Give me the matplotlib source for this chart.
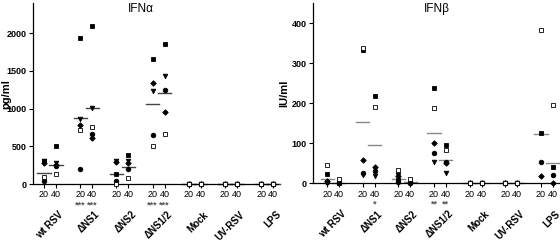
import numpy as np
import matplotlib
matplotlib.use('Agg')
import matplotlib.pyplot as plt

plt.rcParams['font.family'] = ['Liberation Sans', 'DejaVu Sans']

groups = ['wt RSV', '\u0394NS1', '\u0394NS2', '\u0394NS1/2', 'Mock', 'UV-RSV', 'LPS']
mois = ['20', '40']
nan = np.nan

# IFN-alpha (pg/ml), one list per donor, 14 conditions (group x MOI)
a_sq   = [310, 500, 1940, 2100, 130, 380, 1665, 1855, 0, 0, 0, 0, 0, 0]
a_tri  = [300, 285, 860, 1003, 300, 310, 1237, 1431, 0, 0, 0, 0, 0, 0]
a_dia  = [280, 250, 777, 614, 290, 275, 1334, 958, 0, 0, 0, 0, 0, 0]
a_cir  = [40, 245, 199, 667, 35, 195, 649, 1250, 0, 0, 0, 0, 0, 0]
a_open = [90, 128, 711, 755, 0, 84, 503, 658, 0, 0, 0, 0, 0, 0]
a_mean = [146, 256, 879, 1004, 137, 221, 1060, 1210, 0, 0, 0, 0, 0, 0]
a_stars = ['', '', '***', '***', '', '', '***', '***', '', '', '', '', '', '']

# IFN-beta (IU/ml)
b_sq   = [24, 2, 334, 218, 8, 4, 239, 97, 0, 0, 0, 0, 125, 40]
b_tri  = [0, 0, 21, 19, 22, 0, 54, 26, 0, 0, 0, 0, nan, nan]
b_dia  = [5, 0, 59, 40, 18, 0, 100, 51, 0, 0, 0, 0, 18, 2]
b_cir  = [3, 2, 25, 30, 3, 2, 75, 54, 0, 0, 0, 0, 54, 21]
b_open = [45, 11, 338, 191, 33, 10, 187, 83, 0, 0, 0, 0, 382, 196]
b_mean = [12, 0, 152, 95, 12, 3, 126, 59, 0, 0, 0, 0, 124, 52]
b_stars = ['', '', '', '*', '', '', '**', '**', '', '', '', '', '', '']

pos = np.array([3 * g + m for g in range(len(groups)) for m in range(2)])


def panel(ax, donors, means, stars, title, title_x, ylabel, ylab_x,
          yticks, ylim, xlim, mean_col):
    styles = [('s', 'k'), ('v', 'k'), ('D', 'k'), ('o', 'k'), ('s', 'white')]
    for vals, (mk, fc) in zip(donors, styles):
        ms = 3.3 if mk != 'D' else 2.8
        ax.plot(pos, vals, ls='none', marker=mk, ms=ms, mfc=fc, mec='k',
                mew=0.6, clip_on=False, zorder=3)
    for p, m in zip(pos, means):
        ax.plot([p - 0.55, p + 0.55], [m, m], color=mean_col, lw=1.0, zorder=2,
                clip_on=False)
    ax.set_xlim(*xlim)
    ax.set_ylim(*ylim)
    ax.set_yticks(yticks)
    ax.set_xticks(pos)
    ax.set_xticklabels(mois * len(groups), fontsize=6.5)
    for lab in ax.get_yticklabels():
        lab.set_fontweight('bold')
        lab.set_fontsize(6.5)
    ax.tick_params(axis='both', length=3, width=0.8, pad=1.5)
    ax.spines['top'].set_visible(False)
    ax.spines['right'].set_visible(False)
    ax.spines['left'].set_linewidth(0.9)
    ax.spines['bottom'].set_linewidth(0.9)
    ax.text(title_x, 0.97, title, transform=ax.transAxes, ha='center',
            va='center', fontsize=8.5)
    ax.set_ylabel(ylabel, fontsize=8, fontweight='bold')
    ax.yaxis.set_label_coords(ylab_x, 0.5)
    tr = ax.get_xaxis_transform()
    for p, s in zip(pos, stars):
        if s:
            ax.text(p, -0.115, s, transform=tr, ha='center', va='center',
                    fontsize=6.5, fontweight='bold', color='#555555')
    for g, name in enumerate(groups):
        ax.text(3 * g + 1.2, -0.14, name, transform=tr, rotation=45,
                rotation_mode='anchor', ha='right', va='top',
                fontsize=7, fontweight='bold')


fig = plt.figure(figsize=(5.6, 2.4), dpi=100)
ax1 = fig.add_axes([0.059, 0.233, 0.4375, 0.754])
ax2 = fig.add_axes([0.559, 0.236, 0.441, 0.751])

panel(ax1, [a_sq, a_tri, a_dia, a_cir, a_open], a_mean, a_stars,
      'IFN\u03b1', 0.44, 'pg/ml', -0.09, [0, 500, 1000, 1500, 2000], (0, 2400),
      (-0.91, 19.4), '#444444')
panel(ax2, [b_sq, b_tri, b_dia, b_cir, b_open], b_mean, b_stars,
      'IFN\u03b2', 0.5, 'IU/ml', -0.095, [0, 100, 200, 300, 400], (0, 450),
      (-1.18, 19.6), '#888888')

fig.savefig('out.png', dpi=100)
